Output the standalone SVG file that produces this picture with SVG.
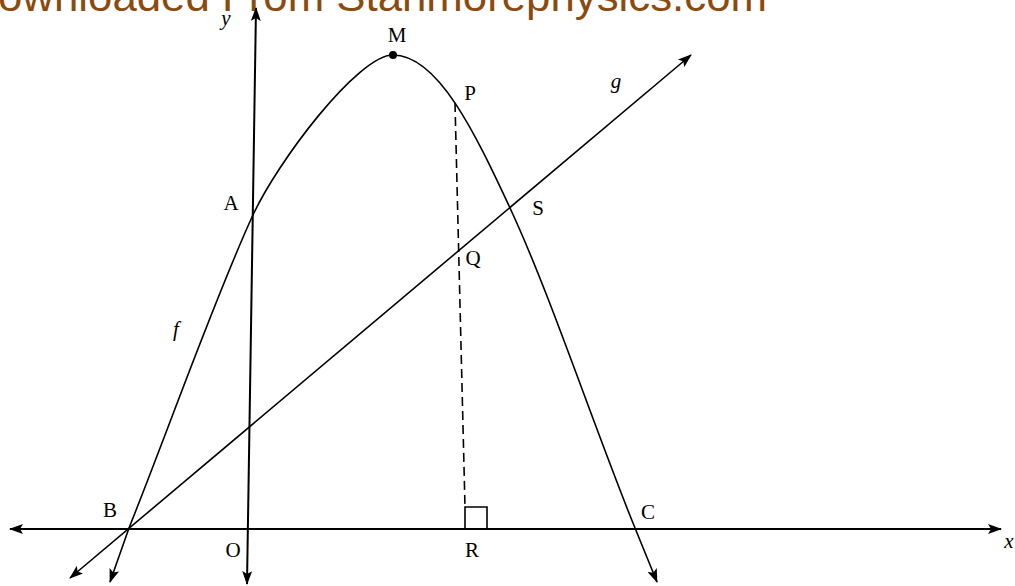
<svg xmlns="http://www.w3.org/2000/svg" width="1015" height="586" viewBox="0 0 1015 586">
<style>
.lbl{font-family:"Liberation Serif","Times New Roman",serif;font-size:21px;fill:#000;text-anchor:middle}
.it{font-style:italic}
.ln{fill:none;stroke:#000;stroke-width:1.6}
.axis{fill:none;stroke:#000;stroke-width:2}
.wm{font-family:"Liberation Sans",Arial,sans-serif;font-size:42px;fill:#8a4b10}
</style>
<defs>
<marker id="arr" viewBox="0 0 14 10" refX="13" refY="5" markerWidth="14" markerHeight="10" markerUnits="userSpaceOnUse" orient="auto-start-reverse">
<path d="M0,0 L14,5 L0,10 L3,5 z" fill="#000"/>
</marker>
</defs>
<rect width="1015" height="586" fill="#fff"/>
<text class="wm" x="-2" y="11" textLength="769" lengthAdjust="spacingAndGlyphs">ownloaded From Stanmorephysics.com</text>
<g id="connectors">
<line id="x-axis" class="axis" x1="10" y1="529" x2="1001" y2="529" marker-start="url(#arr)" marker-end="url(#arr)"/>
<line id="y-axis" class="axis" x1="247" y1="584" x2="256" y2="8" marker-start="url(#arr)" marker-end="url(#arr)"/>
<line id="g-line" class="ln" x1="70" y1="578" x2="691" y2="55" marker-start="url(#arr)" marker-end="url(#arr)"/>
<path id="f-curve" class="ln" marker-start="url(#arr)" marker-end="url(#arr)" d="M110,582 L129,528 C169,428 212,305 252,217 C277,162 358,55 393,55 C438,55 475,133 510,208 C550,293.6 595,430 635,528 L657,582"/>
<line id="PR" class="ln" x1="455" y1="103" x2="465" y2="507" stroke-dasharray="9,5"/>
<path id="right-angle" class="ln" d="M465,529 L465,507 L487,507 L487,529"/>
</g>
<g id="M"><circle cx="393" cy="55" r="4" fill="#000"/><text class="lbl" x="397" y="42">M</text></g>
<g id="P"><text class="lbl" x="470" y="100">P</text></g>
<g id="A"><text class="lbl" x="231" y="210">A</text></g>
<g id="S"><text class="lbl" x="538" y="215">S</text></g>
<g id="Q"><text class="lbl" x="473" y="265">Q</text></g>
<g id="B"><text class="lbl" x="110" y="517">B</text></g>
<g id="C"><text class="lbl" x="648" y="519">C</text></g>
<g id="O"><text class="lbl" x="233" y="557">O</text></g>
<g id="R"><text class="lbl" x="472" y="557">R</text></g>
<g id="label-y"><text class="lbl it" x="226" y="25">y</text></g>
<g id="label-g"><text class="lbl it" x="616" y="88">g</text></g>
<g id="label-f"><text class="lbl it" x="176" y="336">f</text></g>
<g id="label-x"><text class="lbl it" x="1009" y="548">x</text></g>
</svg>
